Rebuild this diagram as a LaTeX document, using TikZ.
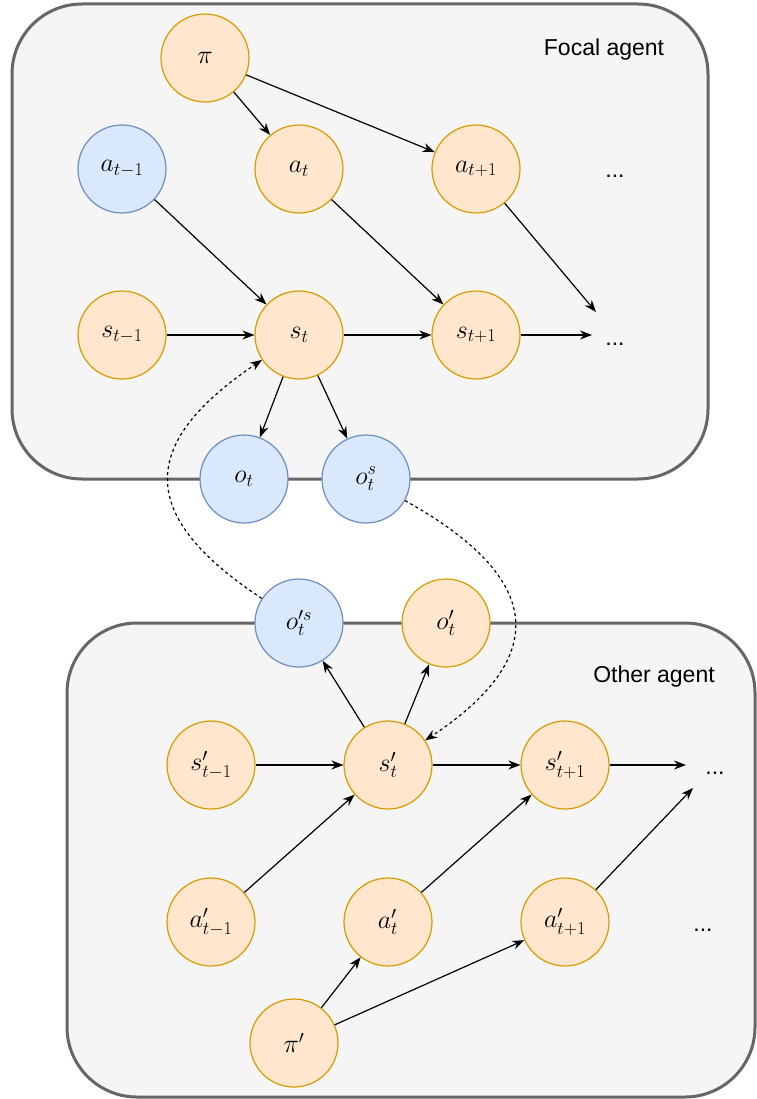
\documentclass[tikz,border=0pt]{standalone}
\usepackage{fix-cm}
\usepackage{amsmath}
\usepackage{fontspec}
\newfontfamily\agentfont{Liberation Sans}
\usetikzlibrary{arrows.meta}

\definecolor{orangefill}{HTML}{FFE6CC}
\definecolor{orangeline}{HTML}{D79B00}
\definecolor{bluefill}{HTML}{DAE8FC}
\definecolor{blueline}{HTML}{6C8EBF}
\definecolor{boxfill}{HTML}{F5F5F5}
\definecolor{boxline}{HTML}{666666}

\begin{document}
\begin{tikzpicture}[x=1pt,y=-1pt,
        varnode/.style={circle,line width=1.2pt,minimum size=88pt,inner sep=0pt,font=\fontsize{26}{30}\selectfont},
        orangenode/.style={varnode,draw=orangeline,fill=orangefill},
        bluenode/.style={varnode,draw=blueline,fill=bluefill},
        agentbox/.style={draw=boxline,fill=boxfill,line width=3pt,rounded corners=70pt},
        agentlabel/.style={anchor=base,font=\agentfont\fontsize{23}{27}\selectfont},
        link/.style={-{Stealth[length=12pt,width=9pt]},line width=1.2pt},
        message/.style={link,dash pattern=on 3pt off 3pt}]
        \useasboundingbox (0,0) rectangle (756,1099);
        \draw[agentbox] (12,4) rectangle (708,479);
        \draw[agentbox] (67,623) rectangle (755,1097);

        % focal agent
        \node[agentlabel] (focal) at (604,56) {Focal agent};
        \node[orangenode] (pi)  at (205,58)  {$\pi$};
        \node[bluenode]   (atm) at (122,169) {$a_{t-1}$};
        \node[orangenode] (at)  at (299,169) {$a_t$};
        \node[orangenode] (atp) at (476,169) {$a_{t+1}$};
        \node[orangenode] (stm) at (122,335) {$s_{t-1}$};
        \node[orangenode] (st)  at (299,335) {$s_t$};
        \node[orangenode] (stp) at (476,335) {$s_{t+1}$};
        \node[bluenode]   (ot)  at (244,479) {$o_t$};
        \node[bluenode]   (ots) at (366,479) {$o_t^s$};
        \node[agentlabel] (dotsa) at (615,178) {...};
        \node[agentlabel] (dotss) at (615,345) {...};
        \coordinate (nexta) at (596,312);
        \coordinate (nexts) at (592,335);

        % other agent
        \node[agentlabel] (other) at (654,682) {Other agent};
        \node[bluenode]   (opts) at (299,623) {$o^{\prime s}_t$};
        \node[orangenode] (opt)  at (446,623) {$o'_t$};
        \node[orangenode] (sptm) at (211,765) {$s'_{t-1}$};
        \node[orangenode] (spt)  at (388,765) {$s'_t$};
        \node[orangenode] (sptp) at (565,765) {$s'_{t+1}$};
        \node[orangenode] (aptm) at (211,922) {$a'_{t-1}$};
        \node[orangenode] (apt)  at (388,922) {$a'_t$};
        \node[orangenode] (aptp) at (565,922) {$a'_{t+1}$};
        \node[orangenode] (pip)  at (294,1043) {$\pi'$};
        \node[agentlabel] (dotssp) at (715,774) {...};
        \node[agentlabel] (dotsap) at (703,931) {...};
        \coordinate (nextsp) at (686,765);
        \coordinate (nextap) at (693,788);

        \draw[link] (pi) -- (at);
        \draw[link] (pi) -- (atp);
        \draw[link] (atm) -- (st);
        \draw[link] (stm) -- (st);
        \draw[link] (at) -- (stp);
        \draw[link] (st) -- (stp);
        \draw[link] (atp) -- (nexta);
        \draw[link] (stp) -- (nexts);
        \draw[link] (st) -- (ot);
        \draw[link] (st) -- (ots);

        \draw[link] (spt) -- (opts);
        \draw[link] (spt) -- (opt);
        \draw[link] (sptm) -- (spt);
        \draw[link] (aptm) -- (spt);
        \draw[link] (spt) -- (sptp);
        \draw[link] (apt) -- (sptp);
        \draw[link] (sptp) -- (nextsp);
        \draw[link] (aptp) -- (nextap);
        \draw[link] (pip) -- (apt);
        \draw[link] (pip) -- (aptp);

        % what each agent sees of the other
        \draw[message] (opts) .. controls (137,516) and (137,444) .. (st);
        \draw[message] (ots) .. controls (548,580) and (548,659) .. (spt);
    \end{tikzpicture}
\end{document}
